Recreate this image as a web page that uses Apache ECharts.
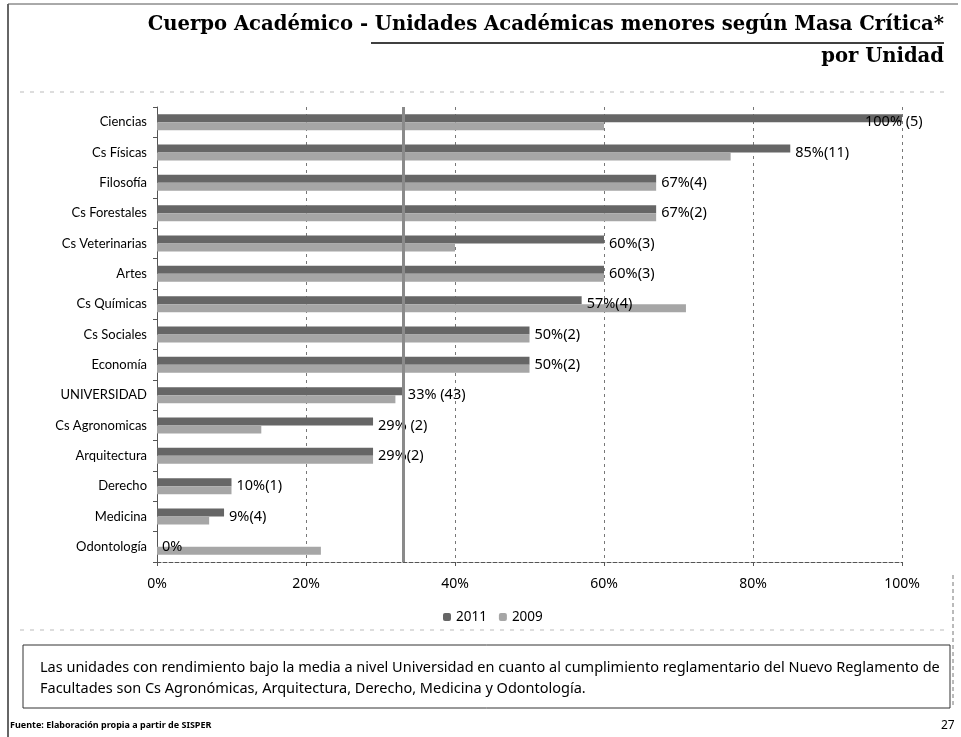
<!DOCTYPE html>
<html>
<head>
<meta charset="utf-8">
<script src="https://cdn.jsdelivr.net/npm/echarts@6/dist/echarts.min.js"></script>
<style>
  html, body { margin: 0; padding: 0; background: #fff; }
  #chart { width: 961px; height: 737px; }
</style>
</head>
<body>
<div id="chart"></div>
<script>
// categorías (de arriba hacia abajo)
const categorias = ["Ciencias", "Cs Físicas", "Filosofía", "Cs Forestales", "Cs Veterinarias", "Artes",
  "Cs Químicas", "Cs Sociales", "Economía", "UNIVERSIDAD", "Cs Agronomicas", "Arquitectura",
  "Derecho", "Medicina", "Odontología"];
// porcentaje 2011
const valores2011 = [100, 85, 67, 67, 60, 60, 57, 50, 50, 33, 29, 29, 10, 9, 0];
// porcentaje 2009
const valores2009 = [60, 77, 67, 67, 40, 60, 71, 50, 50, 32, 14, 29, 10, 7, 22];
// etiquetas de la serie 2011
const etiquetas2011 = ["100% (5)", "85%(11)", "67%(4)", "67%(2)", "60%(3)", "60%(3)", "57%(4)",
  "50%(2)", "50%(2)", "33% (43)", "29% (2)", "29%(2)", "10%(1)", "9%(4)", "0%"];
const promedioUniversidad = 33;
const ticksX = [0, 20, 40, 60, 80, 100];

const fuente = "'Noto Sans', sans-serif";
const fuenteEje = "Lato, 'Noto Sans', sans-serif";

let chartDom = document.getElementById("chart");
let myChart = echarts.init(chartDom);

let options = {
  backgroundColor: "#fff",
  animation: false,
  grid: {
    left: 157,
    right: 59,
    top: 107,
    bottom: 175,
    containLabel: false,
  },
  legend: {
    data: ["2011", "2009"],
    left: 438,
    top: 605,
    itemWidth: 8,
    itemHeight: 8,
    itemGap: 12,
    textStyle: { color: "#000", fontSize: 13.5, fontFamily: fuente },
  },
  xAxis: {
    type: "value",
    min: ticksX[0],
    max: ticksX[ticksX.length - 1],
    interval: 20,
    axisLine: { show: true, lineStyle: { color: "#555", type: "dashed" } },
    axisTick: { show: true, length: 4, lineStyle: { color: "#555" } },
    axisLabel: {
      color: "#000",
      fontSize: 14,
      fontFamily: fuente,
      margin: 15,
      formatter: "{value}%",
    },
    splitLine: { show: true, lineStyle: { color: "#777", type: [3, 4], width: 1 } },
  },
  yAxis: {
    type: "category",
    inverse: true,
    data: categorias,
    axisLine: { show: true, lineStyle: { color: "#555" } },
    axisTick: { show: true, length: 4, lineStyle: { color: "#555" } },
    axisLabel: { color: "#000", fontSize: 13, fontFamily: fuenteEje, margin: 10 },
  },
  series: [
    {
      name: "2011",
      type: "bar",
      barWidth: 8,
      barGap: "0%",
      itemStyle: { color: "#666" },
      label: {
        show: true,
        position: "right",
        offset: [0, 4],
        color: "#000",
        fontSize: 14.5,
        fontFamily: fuente,
        formatter: (p) => etiquetas2011[p.dataIndex],
      },
      data: valores2011.map((v, i) =>
        i === 0 ? { value: v, label: { offset: [-42, 4] } } : v
      ),
      markLine: {
        silent: true,
        symbol: "none",
        label: { show: false },
        lineStyle: { color: "#8a8a8a", width: 3, type: "solid" },
        data: [{ xAxis: promedioUniversidad }],
      },
    },
    {
      name: "2009",
      type: "bar",
      barWidth: 8,
      itemStyle: { color: "#a6a6a6" },
      data: valores2009,
    },
  ],
  graphic: [
    // marco de la lámina
    { type: "line", shape: { x1: 8, y1: 4, x2: 8, y2: 737 }, style: { stroke: "#333", lineWidth: 1.5 } },
    { type: "line", shape: { x1: 8, y1: 4, x2: 958, y2: 4 }, style: { stroke: "#555", lineWidth: 1 } },
    { type: "line", shape: { x1: 20, y1: 92, x2: 950, y2: 92 }, style: { stroke: "#bbb", lineWidth: 1, lineDash: [4, 6] } },
    { type: "line", shape: { x1: 20, y1: 630, x2: 950, y2: 630 }, style: { stroke: "#bbb", lineWidth: 1, lineDash: [4, 6] } },
    { type: "line", shape: { x1: 953, y1: 575, x2: 953, y2: 708 }, style: { stroke: "#777", lineWidth: 1, lineDash: [4, 3] } },
    {
      type: "text",
      right: 17,
      top: 15,
      style: {
        text: "Cuerpo Académico - Unidades Académicas menores según Masa Crítica*",
        fill: "#000",
        font: "bold 19.6px 'DejaVu Serif', serif",
      },
    },
    { type: "line", shape: { x1: 371, y1: 43, x2: 944, y2: 43 }, style: { stroke: "#000", lineWidth: 1.5 } },
    {
      type: "text",
      right: 17,
      top: 47,
      style: { text: "por Unidad", fill: "#000", font: "bold 19.6px 'DejaVu Serif', serif" },
    },
    // caja de comentario
    {
      type: "rect",
      shape: { x: 23, y: 645, width: 927, height: 63 },
      style: { fill: "none", stroke: "#333", lineWidth: 1 },
    },
    {
      type: "text",
      left: 40,
      top: 657,
      style: {
        text: "Las unidades con rendimiento bajo la media a nivel Universidad en cuanto al cumplimiento reglamentario del Nuevo Reglamento de\nFacultades son Cs Agronómicas, Arquitectura, Derecho, Medicina y Odontología.",
        fill: "#000",
        lineHeight: 21,
        font: "14.5px 'Noto Sans', sans-serif",
      },
    },
    {
      type: "text",
      left: 10,
      top: 721,
      style: { text: "Fuente: Elaboración propia a partir de SISPER", fill: "#000", font: "bold 9px 'Noto Sans', sans-serif" },
    },
    {
      type: "text",
      left: 941,
      top: 720,
      style: { text: "27", fill: "#000", font: "12px 'Noto Sans', sans-serif" },
    },
  ],
};

options && myChart.setOption(options);
window.onresize = myChart.resize;
</script>
</body>
</html>
